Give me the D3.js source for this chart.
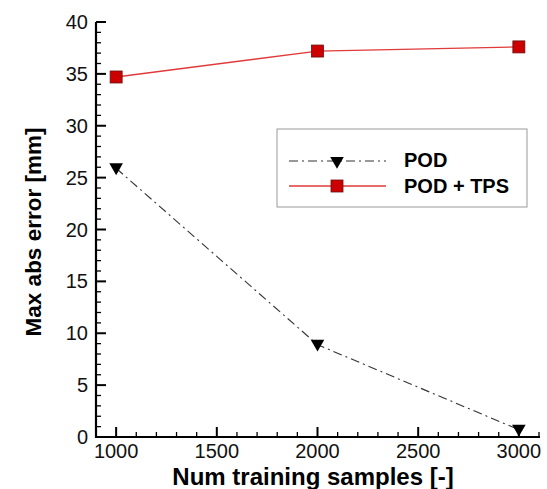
<!DOCTYPE html>
<html><head><meta charset="utf-8">
<script src="https://cdn.jsdelivr.net/npm/d3@7"></script>
<style>body{margin:0;background:#fff}</style>
</head><body>
<script>
const samples = [1000, 2000, 3000];
const podValues = [25.9, 8.9, 0.7];
const podTpsValues = [34.7, 37.2, 37.6];
const seriesNames = ["POD", "POD + TPS"];
const xTicks = [1000, 1500, 2000, 2500, 3000];
const yTicks = [0, 5, 10, 15, 20, 25, 30, 35, 40];

const W = 547, H = 489;
const svg = d3.select("body").append("svg").attr("width", W).attr("height", H);
const x = d3.scaleLinear().domain([900, 3100]).range([96, 539]);
const y = d3.scaleLinear().domain([0, 40]).range([437, 22]);
const font = "Liberation Sans, Arial, sans-serif";

// minor ticks
const xMinor = d3.range(900, 3101, 100);
const yMinor = d3.range(0, 41, 1);
svg.append("g").selectAll("line").data(xMinor).join("line")
  .attr("x1", d => x(d)).attr("x2", d => x(d))
  .attr("y1", 437).attr("y2", d => (d % 500 === 0 ? 427 : 432))
  .attr("stroke", "#000").attr("stroke-width", d => (d % 500 === 0 ? 2 : 1.3));
svg.append("g").selectAll("line").data(yMinor).join("line")
  .attr("y1", d => y(d)).attr("y2", d => y(d))
  .attr("x1", 96).attr("x2", d => (d % 5 === 0 ? 106 : 101))
  .attr("stroke", "#000").attr("stroke-width", d => (d % 5 === 0 ? 2 : 1.3));

// axis lines
svg.append("line").attr("x1", 96).attr("x2", 96).attr("y1", 22).attr("y2", 438)
  .attr("stroke", "#000").attr("stroke-width", 2.2);
svg.append("line").attr("x1", 95).attr("x2", 540).attr("y1", 437).attr("y2", 437)
  .attr("stroke", "#000").attr("stroke-width", 2.2);

// tick labels
svg.append("g").selectAll("text").data(xTicks).join("text")
  .attr("x", d => x(d)).attr("y", 458).attr("text-anchor", "middle")
  .attr("font-family", font).attr("font-size", 20).attr("fill", "#111").text(d => d);
svg.append("g").selectAll("text").data(yTicks).join("text")
  .attr("x", 88).attr("y", d => y(d) + 7).attr("text-anchor", "end")
  .attr("font-family", font).attr("font-size", 20).attr("fill", "#111").text(d => d);

// axis titles
svg.append("text").attr("x", 313).attr("y", 485).attr("text-anchor", "middle")
  .attr("font-family", font).attr("font-size", 24).attr("font-weight", "bold").text("Num training samples [-]");
svg.append("text").attr("transform", "translate(41,232) rotate(-90)").attr("text-anchor", "middle")
  .attr("font-family", font).attr("font-size", 22.5).attr("font-weight", "bold").text("Max abs error [mm]");

const line = d3.line().x(d => x(d[0])).y(d => y(d[1]));
const podData = samples.map((s, i) => [s, podValues[i]]);
const tpsData = samples.map((s, i) => [s, podTpsValues[i]]);

svg.append("path").datum(podData).attr("d", line).attr("fill", "none")
  .attr("stroke", "#333").attr("stroke-width", 1.1).attr("stroke-dasharray", "9,4,2,4");
svg.append("path").datum(tpsData).attr("d", line).attr("fill", "none")
  .attr("stroke", "#e03a3a").attr("stroke-width", 1.3);

const tri = d3.symbol().type(d3.symbolTriangle).size(80);
function drawTri(g, cx, cy) {
  g.append("path").attr("d", tri()).attr("transform", `translate(${cx},${cy}) rotate(180)`)
    .attr("fill", "#000");
}
function drawSq(g, cx, cy) {
  g.append("rect").attr("x", cx - 6).attr("y", cy - 6).attr("width", 12).attr("height", 12)
    .attr("fill", "#cc0000").attr("stroke", "#6b1010").attr("stroke-width", 0.8);
}
podData.forEach(d => drawTri(svg, x(d[0]), y(d[1]) - 1));
tpsData.forEach(d => drawSq(svg, x(d[0]), y(d[1])));

// legend
const lg = svg.append("g");
lg.append("rect").attr("x", 277).attr("y", 129).attr("width", 250).attr("height", 78)
  .attr("fill", "#fff").attr("stroke", "#999").attr("stroke-width", 1);
lg.append("line").attr("x1", 289).attr("x2", 386).attr("y1", 161).attr("y2", 161)
  .attr("stroke", "#333").attr("stroke-width", 1.1).attr("stroke-dasharray", "9,4,2,4");
drawTri(lg, 337, 161);
lg.append("line").attr("x1", 289).attr("x2", 386).attr("y1", 186).attr("y2", 186)
  .attr("stroke", "#e03a3a").attr("stroke-width", 1.3);
drawSq(lg, 337, 186);
lg.selectAll("text.l").data(seriesNames).join("text")
  .attr("x", 404).attr("y", (d, i) => 167 + i * 26)
  .attr("font-family", font).attr("font-size", 20).attr("font-weight", "bold").text(d => d);
</script>
</body></html>
